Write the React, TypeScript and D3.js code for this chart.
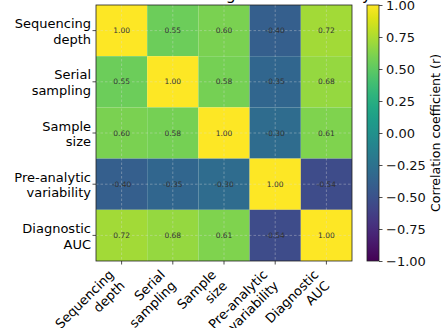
import React, { useEffect, useRef } from 'react';
import * as d3 from 'd3';

const factors = ['Sequencing depth', 'Serial sampling', 'Sample size', 'Pre-analytic variability', 'Diagnostic AUC'];
const factorLines = [['Sequencing', 'depth'], ['Serial', 'sampling'], ['Sample', 'size'], ['Pre-analytic', 'variability'], ['Diagnostic', 'AUC']];
const seqDepthR = [1.0, 0.55, 0.6, -0.4, 0.72];
const serialR = [0.55, 1.0, 0.58, -0.35, 0.68];
const sizeR = [0.6, 0.58, 1.0, -0.3, 0.61];
const preAnalyticR = [-0.4, -0.35, -0.3, 1.0, -0.54];
const aucR = [0.72, 0.68, 0.61, -0.54, 1.0];
const matrix = [seqDepthR, serialR, sizeR, preAnalyticR, aucR];
const colorbarTicks = [1, 0.75, 0.5, 0.25, 0, -0.25, -0.5, -0.75, -1];
const title = 'Correlation among cfDNA variability';
const colorbarLabel = 'Correlation coefficient (r)';

const FONT = 'DejaVu Sans, sans-serif';

function App() {
    const ref = useRef<SVGSVGElement>(null);

    useEffect(() => {
        const svg = d3.select(ref.current);
        svg.selectAll('*').remove();

        const left = 96, right = 352, top = 5, bottom = 261;
        const x = d3.scaleBand().domain(factors).range([left, right]);
        const y = d3.scaleBand().domain(factors).range([top, bottom]);
        const color = d3.scaleSequential(d3.interpolateViridis).domain([-1, 1]);

        // title (mostly clipped off the top)
        svg.append('text')
            .attr('x', (left + right) / 2 + 7)
            .attr('y', -0.5)
            .attr('text-anchor', 'middle')
            .style('font-size', '15.6px')
            .text(title);

        const cells = [];
        matrix.forEach((row, i) => row.forEach((v, j) => cells.push({ r: factors[i], c: factors[j], v })));

        svg.append('g').selectAll('rect')
            .data(cells)
            .enter().append('rect')
            .attr('x', d => x(d.c))
            .attr('y', d => y(d.r))
            .attr('width', x.bandwidth())
            .attr('height', y.bandwidth())
            .attr('fill', d => color(d.v));

        // dashed grid at tick centres
        const grid = svg.append('g')
            .attr('stroke', '#dddddd')
            .attr('stroke-opacity', 0.6)
            .attr('stroke-width', 0.6)
            .attr('stroke-dasharray', '2.5,2');
        factors.forEach(f => {
            const cx = x(f) + x.bandwidth() / 2;
            const cy = y(f) + y.bandwidth() / 2;
            grid.append('line').attr('x1', cx).attr('x2', cx).attr('y1', top).attr('y2', bottom);
            grid.append('line').attr('x1', left).attr('x2', right).attr('y1', cy).attr('y2', cy);
        });

        svg.append('g').selectAll('text')
            .data(cells)
            .enter().append('text')
            .attr('x', d => x(d.c) + x.bandwidth() / 2)
            .attr('y', d => y(d.r) + y.bandwidth() / 2)
            .attr('dy', '0.35em')
            .attr('text-anchor', 'middle')
            .attr('fill', '#333')
            .style('font-size', '7.5px')
            .text(d => d.v.toFixed(2));

        svg.append('rect')
            .attr('x', left).attr('y', top)
            .attr('width', right - left).attr('height', bottom - top)
            .attr('fill', 'none').attr('stroke', '#222').attr('stroke-width', 0.8);

        // y tick marks and labels
        factors.forEach((f, i) => {
            const cy = y(f) + y.bandwidth() / 2;
            svg.append('line').attr('x1', left - 3.5).attr('x2', left).attr('y1', cy).attr('y2', cy)
                .attr('stroke', '#222').attr('stroke-width', 0.8);
            const t = svg.append('text')
                .attr('text-anchor', 'end')
                .style('font-size', '13px');
            factorLines[i].forEach((line, k) => {
                t.append('tspan').attr('x', 91).attr('y', cy - 2.5 + k * 15.6).text(line);
            });
        });

        // x tick marks and rotated labels
        factors.forEach((f, i) => {
            const cx = x(f) + x.bandwidth() / 2;
            svg.append('line').attr('x1', cx).attr('x2', cx).attr('y1', bottom).attr('y2', bottom + 3.5)
                .attr('stroke', '#222').attr('stroke-width', 0.8);
            const t = svg.append('text')
                .attr('transform', 'translate(' + (cx - 7) + ',' + (bottom + 14.5) + ') rotate(-45)')
                .attr('text-anchor', 'end')
                .style('font-size', '13px');
            factorLines[i].forEach((line, k) => {
                t.append('tspan').attr('x', 0).attr('y', k * 15.6).text(line);
            });
        });

        // colorbar
        const cbLeft = 367, cbRight = 379;
        const cb = d3.scaleLinear().domain([-1, 1]).range([bottom, top]);
        const grad = svg.append('defs').append('linearGradient')
            .attr('id', 'viridis-grad')
            .attr('x1', 0).attr('y1', 1).attr('x2', 0).attr('y2', 0);
        d3.range(0, 1.0001, 0.05).forEach(t => {
            grad.append('stop').attr('offset', t).attr('stop-color', d3.interpolateViridis(t));
        });
        svg.append('rect')
            .attr('x', cbLeft).attr('y', top)
            .attr('width', cbRight - cbLeft).attr('height', bottom - top)
            .attr('fill', 'url(#viridis-grad)')
            .attr('stroke', '#222').attr('stroke-width', 0.8);

        const cbAxis = d3.axisRight(cb)
            .tickValues(colorbarTicks)
            .tickSize(3.5)
            .tickPadding(3.5)
            .tickFormat(d => d3.format('.2f')(d).replace('-', '\u2212'));
        const axisG = svg.append('g')
            .attr('transform', 'translate(' + cbRight + ',0)')
            .call(cbAxis);
        axisG.select('.domain').remove();
        axisG.selectAll('line').attr('stroke', '#222').attr('stroke-width', 0.8);
        axisG.selectAll('text')
            .attr('fill', '#111')
            .style('font-size', '13px')
            .style('font-family', FONT);

        svg.append('text')
            .attr('transform', 'translate(436,' + (top + bottom) / 2 + ') rotate(-90)')
            .attr('text-anchor', 'middle')
            .attr('dy', '0.35em')
            .style('font-size', '12.6px')
            .text(colorbarLabel);
    }, []);

    return (
        <svg
            ref={ref}
            width={441}
            height={328}
            style={{ position: 'absolute', left: 0, top: 0, background: '#fff', fontFamily: FONT }}
        />
    );
}

export default App;
